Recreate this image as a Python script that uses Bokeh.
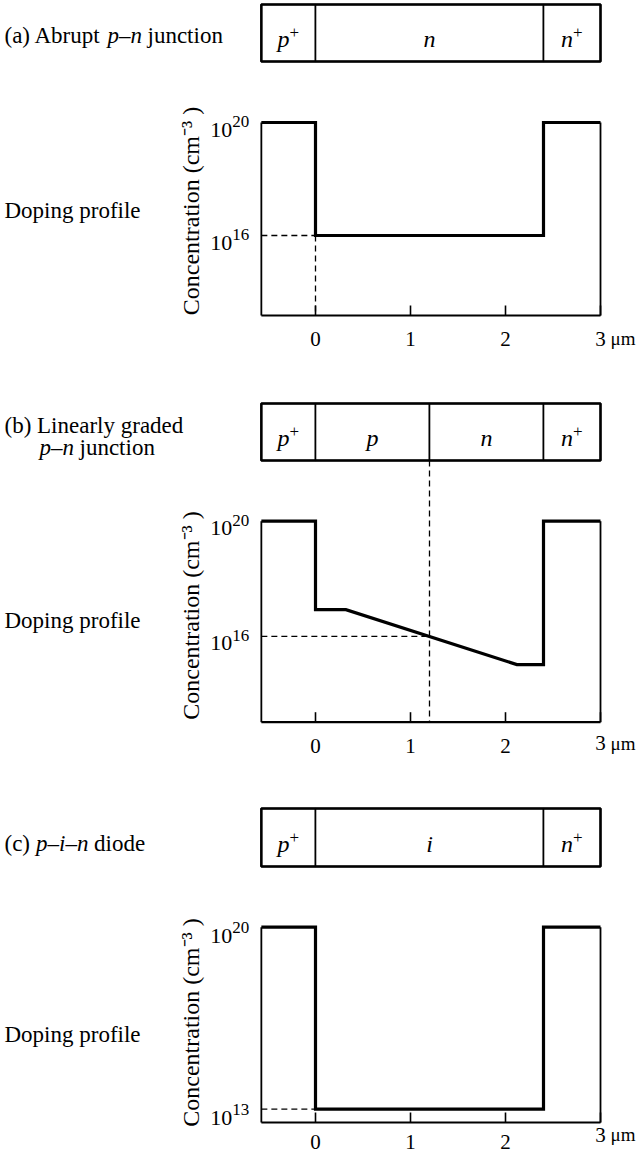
import math
from bokeh.plotting import figure
from bokeh.models import Range1d
from bokeh.layouts import column
from bokeh.embed import file_html
from bokeh.resources import INLINE
from bokeh.core.properties import value

# ---------------- data (micrometres, cm^-3) ----------------
x_tick_values = [0, 1, 2, 3]
x_tick_labels = ["0", "1", "2", "3"]
x_unit_label = "μm"
y_title = "Concentration (cm⁻³ )"
side_label = "Doping profile"

# (a) abrupt p-n junction
a_title = ["(a) Abrupt", "p–n", "junction"]
a_region_bounds = [-0.57, 0.0, 2.4, 3.0]
a_region_letters = ["p", "n", "n"]
a_region_sups = ["+", "", "+"]
a_profile_x = [-0.57, 0.0, 0.0, 2.4, 2.4, 3.0]
a_profile_conc = [1e20, 1e20, 1e16, 1e16, 1e20, 1e20]
a_ref_x = 0.0
a_ref_conc = 1e16
a_ytick_values = [1e20, 1e16]
a_ytick_exps = ["20", "16"]

# (b) linearly graded p-n junction
b_title = ["(b) Linearly graded", "p–n", "junction"]
b_region_bounds = [-0.57, 0.0, 1.2, 2.4, 3.0]
b_region_letters = ["p", "p", "n", "n"]
b_region_sups = ["+", "", "", "+"]
b_profile_x = [-0.57, 0.0, 0.0, 0.32, 2.12, 2.4, 2.4, 3.0]
b_profile_conc = [1e20, 1e20, 8.5e16, 8.5e16, 1.05e15, 1.05e15, 1e20, 1e20]
b_ref_x = 1.2
b_ref_conc = 1e16
b_ytick_values = [1e20, 1e16]
b_ytick_exps = ["20", "16"]

# (c) p-i-n diode
c_title = ["(c)", "p–i–n", "diode"]
c_region_bounds = [-0.57, 0.0, 2.4, 3.0]
c_region_letters = ["p", "i", "n"]
c_region_sups = ["+", "", "+"]
c_profile_x = [-0.57, 0.0, 0.0, 2.4, 2.4, 3.0]
c_profile_conc = [1e20, 1e20, 1e13, 1e13, 1e20, 1e20]
c_ref_x = 0.0
c_ref_conc = 1e13
c_ytick_values = [1e20, 1e13]
c_ytick_exps = ["20", "13"]

# ---------------- layout (canvas pixels) ----------------
SERIF = "Liberation Serif"
PX0, PPU = 315.0, 95.0          # canvas x of 0 µm, pixels per µm
FIG_W = 639
PAGE_L, PAGE_R = 0.0, 639.0


def xd(px):
    return (px - PX0) / PPU


def add_text(p, x, y, s, size, italic=False, align="left", baseline="alphabetic",
             angle=0.0, x_offset=0):
    p.text(x=x if isinstance(x, list) else [x], y=y if isinstance(y, list) else [y],
           text=s if isinstance(s, list) else [s], text_font=value(SERIF),
           text_font_size=value(f"{size}px"),
           text_font_style="italic" if italic else "normal",
           text_align=align, text_baseline=baseline, angle=angle,
           x_offset=x_offset, text_color="black")


def build_panel(spec, title, bounds, letters, sups, prof_x, prof_c,
                ref_x, ref_c, ref_from_bar, ref_vertical, ytick_vals, ytick_exps):
    top, height, axis = spec["top"], spec["height"], spec["axis"]
    y20, ppd = spec["y20"], spec["ppd"]

    def yd(py):
        return 10 ** (20 + (y20 - py) / ppd)

    def py_of(v):
        return y20 - (math.log10(v) - 20) * ppd

    y_bot = yd(axis)
    p = figure(width=FIG_W, height=height,
               x_range=Range1d(xd(PAGE_L), xd(PAGE_R)),
               y_range=Range1d(yd(top + height), yd(top)), y_axis_type="log",
               output_backend="svg", toolbar_location=None,
               min_border_left=0, min_border_right=0, min_border_top=0,
               min_border_bottom=0,
               background_fill_color="white", border_fill_color="white",
               outline_line_color=None)
    p.grid.visible = False
    p.xaxis.visible = False
    p.yaxis.visible = False

    xl, xr = bounds[0], bounds[-1]

    # device bar
    bt, bb = yd(spec["bar_top"]), yd(spec["bar_bot"])
    p.quad(left=bounds[:-1], right=bounds[1:], top=bt, bottom=bb,
           fill_color="white", line_color="black", line_width=1.6)
    p.quad(left=[xl], right=[xr], top=[bt], bottom=[bb], fill_color=None,
           line_color="black", line_width=2.5)
    bc = (spec["bar_top"] + spec["bar_bot"]) / 2
    for x0, x1, let, sup in zip(bounds[:-1], bounds[1:], letters, sups):
        cx = (x0 + x1) / 2
        if sup:
            add_text(p, cx, yd(bc + 6), let, 24, italic=True, align="right", x_offset=1)
            add_text(p, cx, yd(bc - 0.5), sup, 17, align="left", x_offset=1)
        else:
            add_text(p, cx, yd(bc + 6), let, 24, italic=True, align="center")

    # dashed guides
    p.segment(x0=[xl], y0=[ref_c], x1=[ref_x], y1=[ref_c], line_color="black",
              line_width=1.3, line_dash="6 4")
    if ref_vertical:
        y_from = bb if ref_from_bar else ref_c
        p.segment(x0=[ref_x], y0=[y_from], x1=[ref_x], y1=[y_bot], line_color="black",
                  line_width=1.3, line_dash="6 4")

    # x axis: baseline, inward ticks, tick labels
    p.segment(x0=[xl], y0=[y_bot], x1=[xr], y1=[y_bot], line_color="black", line_width=2.2)
    p.segment(x0=x_tick_values, y0=[y_bot] * len(x_tick_values),
              x1=x_tick_values, y1=[yd(axis - 10)] * len(x_tick_values),
              line_color="black", line_width=1.6)
    add_text(p, x_tick_values[:-1], [yd(axis + spec["lab_dy"])] * (len(x_tick_values) - 1),
             x_tick_labels[:-1], 21, align="center")
    add_text(p, x_tick_values[-1], yd(axis + spec["last_dy"]), x_tick_labels[-1], 21,
             align="center")
    add_text(p, x_tick_values[-1], yd(axis + spec["last_dy"]), x_unit_label, 19,
             align="left", x_offset=10)

    # frame edges
    p.segment(x0=[xl, xr], y0=[y_bot, y_bot], x1=[xl, xr], y1=[prof_c[0], prof_c[-1]],
              line_color="black", line_width=1.8)

    # doping profile
    p.line(prof_x, prof_c, line_color="black", line_width=3.2, line_join="miter")

    # y tick labels 10^n
    for v, e in zip(ytick_vals, ytick_exps):
        ly = py_of(v)
        add_text(p, xl, yd(ly + spec.get("base_dy", 7)), "10", 22, align="right", x_offset=-29)
        add_text(p, xl, yd(ly + spec.get("exp_dy", -1)), e, 17, align="left", x_offset=-29)

    # y title
    add_text(p, xd(190), yd(spec["ytitle_c"]), y_title, 24, align="center",
             baseline="middle", angle=math.pi / 2)
    # side label
    add_text(p, xd(4), yd(spec["dp_base"]), side_label, 23)
    # panel title pieces
    for (s, px, pyb, it) in zip(title, spec["title_x"], spec["title_y"], spec["title_it"]):
        add_text(p, xd(px), yd(pyb), s, 23, italic=it)
    return p


spec_a = dict(top=0, height=375, axis=315, y20=122, ppd=28.25, lab_dy=23, last_dy=23,
              bar_top=4, bar_bot=61, ytitle_c=210.5, dp_base=209.5,
              title_x=[4, 107, 147], title_y=[35, 35, 35],
              title_it=[False, True, False])
spec_b = dict(top=375, height=410, axis=721.7, y20=520.7, ppd=28.8, lab_dy=24, last_dy=21,
              bar_top=403, bar_bot=460, ytitle_c=615, dp_base=620,
              title_x=[4, 39, 79], title_y=[425, 447, 447],
              title_it=[False, True, False])
spec_c = dict(top=785, height=370, axis=1122, y20=926.7, ppd=26.0, lab_dy=19, last_dy=12,
              bar_top=808, bar_bot=866, ytitle_c=1022, dp_base=1034,
              title_x=[4, 35.5, 93.5], title_y=[843, 843, 843],
              title_it=[False, True, False], base_dy=9, exp_dy=0)

pa = build_panel(spec_a, a_title, a_region_bounds, a_region_letters, a_region_sups,
                 a_profile_x, a_profile_conc, a_ref_x, a_ref_conc, False, True,
                 a_ytick_values, a_ytick_exps)
pb = build_panel(spec_b, b_title, b_region_bounds, b_region_letters, b_region_sups,
                 b_profile_x, b_profile_conc, b_ref_x, b_ref_conc, True, True,
                 b_ytick_values, b_ytick_exps)
pc = build_panel(spec_c, c_title, c_region_bounds, c_region_letters, c_region_sups,
                 c_profile_x, c_profile_conc, c_ref_x, c_ref_conc, False, False,
                 c_ytick_values, c_ytick_exps)

layout = column(pa, pb, pc, spacing=0)
open("out.html", "w").write(file_html(layout, INLINE))
